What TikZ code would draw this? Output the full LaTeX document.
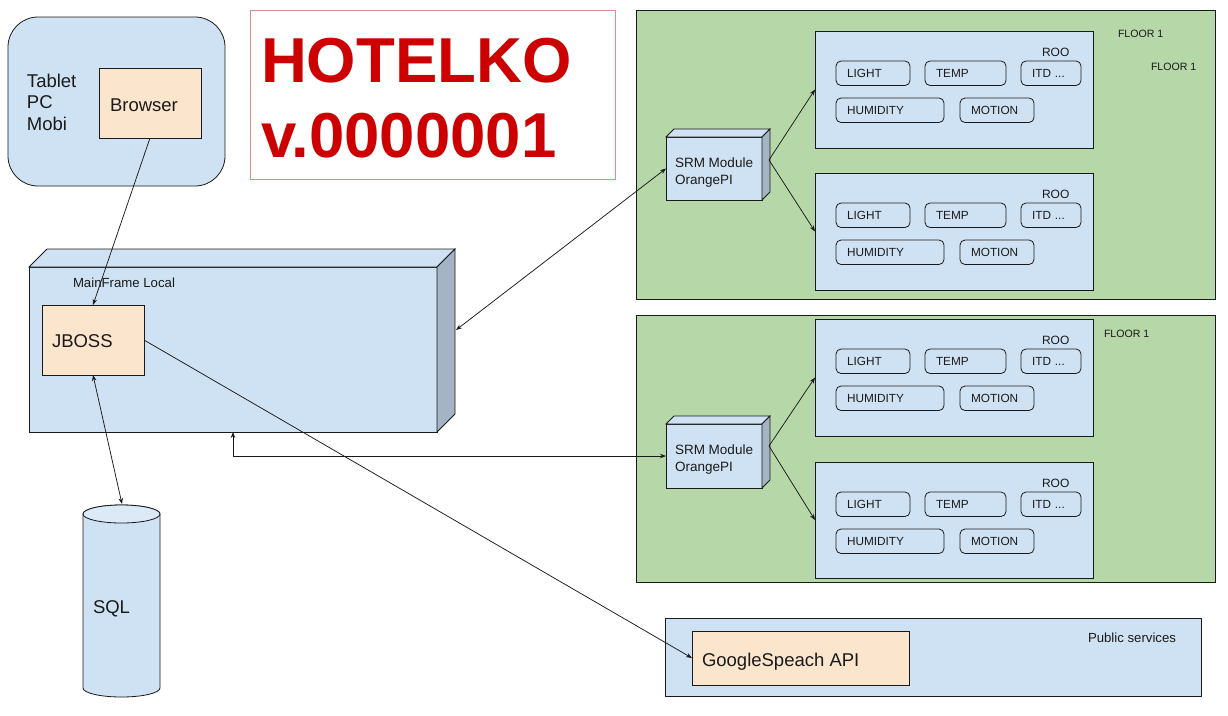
\documentclass[tikz,border=0pt]{standalone}
\usepackage{fontspec}
\setmainfont{Liberation Sans}
\usetikzlibrary{arrows.meta,calc}
\definecolor{lblue}{HTML}{CFE2F3}
\definecolor{ltop}{HTML}{DCE9F6}
\definecolor{peach}{HTML}{FCE5CD}
\definecolor{lgreen}{HTML}{B6D7A8}
\definecolor{side}{HTML}{A4B4C5}
\definecolor{tred}{HTML}{CC0000}
\definecolor{tborder}{HTML}{E08A8A}
\definecolor{edge}{HTML}{1A1A1A}
\begin{document}
\begin{tikzpicture}[x=1pt,y=-1pt,
  every node/.style={inner sep=0pt, outer sep=0pt},
  box/.style={draw=edge, line width=0.8pt, anchor=north west},
  txt/.style={anchor=base west, text=edge},
  big/.style={txt, font=\fontsize{18.5}{21}\selectfont},
  mid/.style={txt, font=\fontsize{13.5}{16}\selectfont},
  sml/.style={txt, font=\fontsize{13.2}{15}\selectfont},
  tiny/.style={txt, font=\fontsize{10.6}{12}\selectfont},
  sensor/.style={draw=edge, line width=0.8pt, rounded corners=5pt, anchor=north west,
    align=left, inner xsep=11pt, minimum height=24.5pt, font=\fontsize{11.8}{13}\selectfont, text=edge},
  conn/.style={draw=edge, line width=0.75pt},
  >={Stealth[length=6pt,width=4.5pt]}]
\useasboundingbox (0,0) rectangle (1228,715);
\fill[white] (0,0) rectangle (1228,715);

% ---------- Tablet / Browser ----------
\node[box, fill=lblue, rounded corners=30pt, minimum width=217pt, minimum height=169pt] (tablet) at (8,17) {};
\node[big] (t1) at (27,87) {Tablet};
\node[big] (t2) at (27,108.5) {PC};
\node[big] (t3) at (27,130) {Mobi};
\node[box, fill=peach, minimum width=102pt, minimum height=70pt] (browser) at (99,68) {};
\node[big] (browsertxt) at (110,111) {Browser};

% ---------- Title ----------
\node[draw=tborder, line width=0.7pt, anchor=north west, minimum width=365pt, minimum height=169pt] (title) at (250,10) {};
\node[anchor=base west, text=tred, font=\fontsize{63.5}{70}\selectfont\bfseries] (title1) at (261,82) {HOTELKO};
\node[anchor=base west, text=tred, font=\fontsize{63.5}{70}\selectfont\bfseries] (title2) at (261,157) {v.0000001};

% ---------- Mainframe ----------
\node[box, fill=lblue, minimum width=408pt, minimum height=165pt] (mf) at (29,267) {};
\filldraw[fill=lblue, draw=edge, line width=0.8pt] (mf.north west) -- ++(18,-18) -- ++(408,0) -- (mf.north east) -- cycle;
\filldraw[fill=side, draw=edge, line width=0.8pt] (mf.north east) -- ++(18,-18) -- ++(0,165) -- (mf.south east) -- cycle;
\node[sml] (mftxt) at (73,287) {MainFrame Local};
\coordinate (mfside) at (456,330);
\node[box, fill=peach, minimum width=102pt, minimum height=70pt] (jboss) at (42,305) {};
\node[big] (jbosstxt) at (52,347) {JBOSS};

% ---------- SQL cylinder ----------
\filldraw[fill=lblue, draw=edge, line width=0.8pt]
  (83,514) -- (83,688) arc[start angle=180, end angle=0, x radius=38.5, y radius=9]
  -- (160,514) arc[start angle=0, end angle=-180, x radius=38.5, y radius=9] -- cycle;
\filldraw[fill=ltop, draw=edge, line width=0.8pt] (121.5,514) ellipse[x radius=38.5, y radius=9];
\coordinate (sqltop) at (122,504);
\node[big] (sqltxt) at (93,613) {SQL};

% ---------- Floor panels ----------
\node[box, fill=lgreen, minimum width=579pt, minimum height=289pt] (floorA) at (636,10) {};
\node[box, fill=lgreen, minimum width=579pt, minimum height=267pt] (floorB) at (636,315) {};
\node[tiny] (fa1) at (1118,37) {FLOOR 1};
\node[tiny] (fa2) at (1151,70) {FLOOR 1};
\node[tiny] (fb1) at (1104,337) {FLOOR 1};

% ---------- SRM modules ----------
\node[box, fill=lblue, minimum width=96pt, minimum height=63pt] (srm1) at (666,137) {};
\filldraw[fill=lblue, draw=edge, line width=0.8pt] (srm1.north west) -- ++(8,-8) -- ++(96,0) -- (srm1.north east) -- cycle;
\filldraw[fill=side, draw=edge, line width=0.8pt] (srm1.north east) -- ++(8,-8) -- ++(0,63) -- (srm1.south east) -- cycle;
\node[mid] (s1a) at (675,167) {SRM Module};
\node[mid] (s1b) at (675,184) {OrangePI};
\coordinate (srm1out) at (769,160);

\node[box, fill=lblue, minimum width=96pt, minimum height=64pt] (srm2) at (666,424) {};
\filldraw[fill=lblue, draw=edge, line width=0.8pt] (srm2.north west) -- ++(8,-8) -- ++(96,0) -- (srm2.north east) -- cycle;
\filldraw[fill=side, draw=edge, line width=0.8pt] (srm2.north east) -- ++(8,-8) -- ++(0,64) -- (srm2.south east) -- cycle;
\node[mid] (s2a) at (675,454) {SRM Module};
\node[mid] (s2b) at (675,471) {OrangePI};
\coordinate (srm2out) at (769,446);

% ---------- Rooms ----------
\foreach \rn/\ry/\rh in {r1/31/117, r2/173/117, r3/319/117, r4/462/116}{
  \begin{scope}[shift={(815,\ry)}, name prefix=\rn-]
    \node[box, fill=lblue, minimum width=278pt, minimum height=\rh pt] (room) at (0,0) {};
    \node[tiny, font=\fontsize{12}{13}\selectfont] (roo) at (227,25) {ROO};
    \node[sensor, text width=52pt] (light) at (21,30) {LIGHT};
    \node[sensor, text width=59pt] (temp) at (110,30) {TEMP};
    \node[sensor, text width=38pt] (itd) at (206,30) {ITD ...};
    \node[sensor, text width=86pt] (hum) at (21,67) {HUMIDITY};
    \node[sensor, text width=52pt] (mot) at (145,67) {MOTION};
  \end{scope}
}

% ---------- Public services ----------
\node[box, fill=lblue, minimum width=536pt, minimum height=78pt] (pub) at (665,618) {};
\node[sml] (pubtxt) at (1088,642) {Public services};
\node[box, fill=peach, minimum width=217pt, minimum height=54pt] (google) at (692,631) {};
\node[big] (googletxt) at (702,666) {GoogleSpeach API};

% ---------- Connectors ----------
\draw[conn, ->] (browser.south) -- (jboss.north);
\draw[conn, <->] (jboss.south) -- (sqltop);
\draw[conn, <->] (mfside) -- (srm1.west);
\draw[conn, <->] (mf.south) |- (srm2.west);
\draw[conn, ->] (jboss.east) -- (google.west);
\draw[conn, ->] (srm1out) -- (r1-room.west);
\draw[conn, ->] (srm1out) -- (r2-room.west);
\draw[conn, ->] (srm2out) -- (r3-room.west);
\draw[conn, ->] (srm2out) -- (r4-room.west);
\end{tikzpicture}
\end{document}
